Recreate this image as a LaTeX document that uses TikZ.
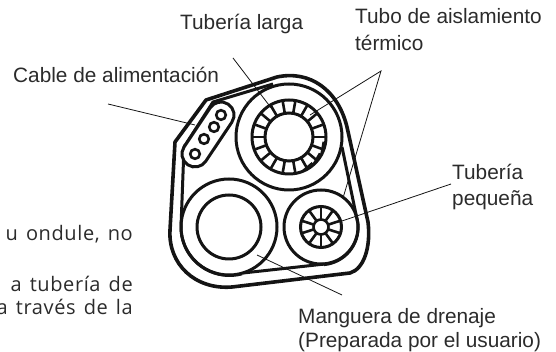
\documentclass[tikz,border=0pt]{standalone}
\usepackage{fontspec}
\setmainfont{Liberation Sans}
\newfontfamily\mont[LetterSpace=3,WordSpace=1.4]{Open Sans}
\definecolor{ink}{HTML}{141414}
\definecolor{txt}{HTML}{2B2B2B}
\tikzset{
  heavy/.style={line width=3.6pt,draw=ink},
  belt/.style={line width=3pt,draw=ink},
  ringline/.style={line width=3pt,draw=ink},
  leader/.style={line width=0.8pt,draw=ink},
  lab/.style={font=\fontsize{20.8}{26}\selectfont,text=txt,inner sep=0pt,align=left},
  clipped/.style={font=\mont\fontsize{20}{24}\selectfont,text=txt,inner sep=0pt,anchor=base east}
}
\begin{document}
\begin{tikzpicture}[x=1pt,y=1pt]
\useasboundingbox (0,0) rectangle (556,352);
% outer shell
\draw[heavy,line join=round] (206,252) -- (175,210) -- (170,122)
  .. controls (168,88) and (195,62) .. (232,65) -- (350,79)
  .. controls (364,83) and (371,105) .. (368,130) -- (347,225)
  .. controls (338,262) and (310,282) .. (277,275) -- cycle;
% inner belt
\draw[belt,line join=round] (181,125) -- (184,205) -- (213,250) -- (273,268);
\draw[belt] (342,205) -- (358,128);
\draw[belt] (243,79) -- (325,88);
\draw[belt] (358,128) arc[start angle=5,end angle=-85,radius=37.5];
\draw[belt] (181,125) arc[start angle=180,end angle=285,radius=48.5];
% large pipe
\coordinate (bigc) at (289,215);
\draw[ringline] (bigc) circle[radius=53];
\foreach \a in {0,20,...,350}{
  \draw[line width=2.6pt,draw=ink] (bigc)++(\a:24) -- ++(\a:13);
}
\foreach \a in {-80,-60,-40}{
  \draw[line width=2pt,draw=ink] (bigc)++(\a+10:37) -- ++(\a+120:14);
}
\draw[ringline] (bigc) circle[radius=37];
\draw[ringline] (bigc) circle[radius=24];
% drain hose
\coordinate (drainc) at (229,125);
\draw[ringline] (drainc) circle[radius=48];
\draw[ringline] (drainc) circle[radius=32];
% small pipe
\coordinate (smallc) at (321,125);
\draw[ringline] (smallc) circle[radius=37];
\foreach \a in {0,36,...,330}{
  \draw[line width=2.6pt,draw=ink] (smallc)++(\a+18:7) -- ++(\a+18:14);
}
\draw[ringline] (smallc) circle[radius=20.5];
\draw[line width=2.6pt,draw=ink] (smallc) circle[radius=7.5];
% power cable
\draw[ringline,fill=white] (184.2,205.2) -- (210.2,244.2)
  arc[start angle=146.3,end angle=-33.7,radius=13] -- (205.8,190.8)
  arc[start angle=-33.7,end angle=-213.7,radius=13] -- cycle;
\foreach \p in {(195,198),(204,213),(214,225),(221,237)}{
  \draw[line width=2.6pt,draw=ink] \p circle[radius=4.8];
}
% labels
\node[lab,anchor=base west] (larga) at (180,322) {Tubería larga};
\node[lab,anchor=base west] (cable) at (13,269) {Cable de alimentación};
\node[lab,anchor=north west] (tubo) at (355,344) {Tubo de aislamiento\\[1pt]térmico};
\node[lab,anchor=north west] (peq) at (452,188) {Tubería\\pequeña};
\node[lab,anchor=north west,font=\fontsize{20.8}{24}\selectfont] (mang) at (298,44) {Manguera de drenaje\\(Preparada por el usuario)};
\node[clipped] (t1) at (133,111) {u ondule, no};
\node[clipped] (t2) at (133,60) {a tubería de};
\node[clipped] (t3) at (133,37) {a través de la};
% leaders
\coordinate (largaS) at (233,294);
\coordinate (largaE) at (275,239);
\coordinate (cableS) at (108,248);
\coordinate (cableE) at (195,227);
\coordinate (apex) at (381,281);
\coordinate (tuboA) at (310,237);
\coordinate (tuboB) at (343,154);
\coordinate (peqS) at (451,168);
\coordinate (peqE) at (342,131);
\coordinate (mangS) at (342,57);
\coordinate (mangE) at (257,97);
\draw[leader] (largaS) -- (largaE);
\draw[leader] (cableS) -- (cableE);
\draw[leader] (tuboA) -- (apex) -- (tuboB);
\draw[leader] (peqS) -- (peqE);
\draw[leader] (mangS) -- (mangE);
\end{tikzpicture}
\end{document}
